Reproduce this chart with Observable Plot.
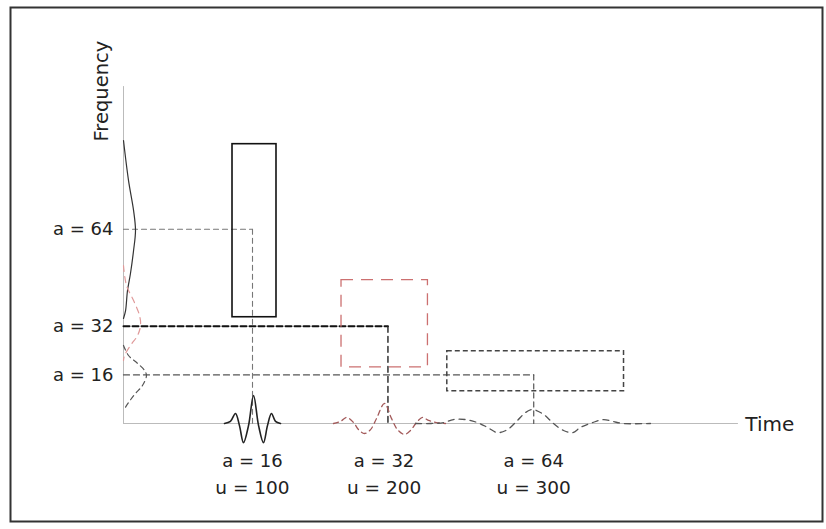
<!DOCTYPE html>
<html><head><meta charset="utf-8">
<script src="https://cdn.jsdelivr.net/npm/d3@7"></script>
<script src="https://cdn.jsdelivr.net/npm/@observablehq/plot@0.6"></script>
<style>body{margin:0;background:#fff} svg{display:block}</style>
</head><body><div id="chart"></div>
<script>
// ---- data (time units on x, frequency units on y) ----
const levels = [64, 32, 16];
const levelLabels = ["a = 64", "a = 32", "a = 16"];
const guideTimes = [100, 205, 318];
const bottomTimes = [100, 202, 318];
const scaleLabels = ["a = 16", "a = 32", "a = 64"];
const shiftLabels = ["u = 100", "u = 200", "u = 300"];
const boxT1 = [84.5, 169, 251];
const boxT2 = [118.6, 236, 388];
const boxF1 = [35, 18.5, 10.6];
const boxF2 = [92, 47.2, 23.8];
const axisTimeEnd = 476;
const axisFreqEnd = 111;

// wavelets along the time axis
const w1T = [78.3, 82.9, 86.8, 89.9, 93.0, 96.9, 100.8, 104.7, 108.5, 111.6, 114.7, 117.8, 121.7];
const w1V = [0, 0.7, 3.3, -0.7, -6.3, -0.7, 9.2, -0.7, -6.3, -0.7, 3.3, 0.7, 0];
const w2T = [162.8, 168.2, 172.9, 178.3, 182.2, 186.8, 191.5, 196.1, 202.3, 207.8, 212.4, 217.8, 222.5, 227.1, 231.8, 236.4, 242.6, 249.6];
const w2V = [0, 0.66, 2.0, 0.33, -2.0, -3.3, -2.0, 1.6, 6.6, 1.6, -2.0, -3.6, -2.3, 0.3, 2.0, 1.0, 0.3, 0];
const w3T = [226.4, 238.0, 248.1, 255.8, 265.1, 274.4, 282.2, 289.9, 297.7, 305.4, 311.6, 317.1, 325.6, 333.3, 341.1, 348.1, 354.3, 363.6, 372.1, 379.8, 387.6, 408.5];
const w3V = [0, 0, 0.3, 1.3, 1.3, 0.3, -1.3, -3.0, -2.0, 1.0, 3.6, 4.6, 3.0, 0, -2.3, -3.0, -1.3, 0.3, 1.3, 0.6, 0, 0];

// spectra along the frequency axis (x = bulge, y = frequency)
const g1X = [0, 3.9, 7.8, 9.3, 7.8, 5.4, 3.1, 1.6, 0];
const g1Y = [93.2, 80, 70.2, 63.6, 57, 49.4, 43.8, 37.2, 34.6];
const g2X = [0, 2.3, 7.8, 12.4, 13.2, 10.9, 5.4, 0.8, 0];
const g2Y = [52, 45.5, 40.5, 35.6, 32.3, 29, 25.7, 22.4, 20.8];
const g3X = [0, 3.9, 10.9, 16.3, 17.8, 14.7, 9.3, 3.9, 0];
const g3Y = [25.7, 22.4, 19.8, 17.5, 15.8, 12.5, 9.9, 6.9, 4.3];

// ---- build ----
const pts = (a, b) => a.map((v, i) => ({x: v, y: b[i]}));
const font = "DejaVu Sans, Verdana, sans-serif";
const ink = "#222";

const guideStyles = [
  {h: {stroke: "#777", strokeWidth: 1.1, strokeDasharray: "5,4"}, v: {stroke: "#777", strokeWidth: 1.1, strokeDasharray: "5,4"}},
  {h: {stroke: "#111", strokeWidth: 2, strokeDasharray: "6,3"}, v: {stroke: "#222", strokeWidth: 1.4, strokeDasharray: "6,4"}},
  {h: {stroke: "#555", strokeWidth: 1.3, strokeDasharray: "6,4"}, v: {stroke: "#555", strokeWidth: 1.2, strokeDasharray: "5,4"}}
];
const boxStyles = [
  {stroke: "#111", strokeWidth: 1.6},
  {stroke: "#cc7070", strokeWidth: 1.3, strokeDasharray: "12,8"},
  {stroke: "#444", strokeWidth: 1.5, strokeDasharray: "5,3"}
];

const marks = [
  Plot.frame({stroke: "#333", strokeWidth: 2}),
  // axes
  Plot.line(pts([0, 0], [0, axisFreqEnd]), {x: "x", y: "y", stroke: "#bbb", strokeWidth: 1}),
  Plot.line(pts([0, axisTimeEnd], [0, 0]), {x: "x", y: "y", stroke: "#bbb", strokeWidth: 1}),
];
levels.forEach((lv, i) => {
  marks.push(Plot.line(pts([0, guideTimes[i]], [lv, lv]), {x: "x", y: "y", ...guideStyles[i].h}));
  marks.push(Plot.line(pts([guideTimes[i], guideTimes[i]], [lv, 0]), {x: "x", y: "y", ...guideStyles[i].v}));
});
boxT1.forEach((t, i) => {
  marks.push(Plot.rect([i], {x1: () => boxT1[i], x2: () => boxT2[i], y1: () => boxF1[i], y2: () => boxF2[i], fill: "none", ...boxStyles[i]}));
});
marks.push(
  Plot.line(pts(w1T, w1V), {x: "x", y: "y", curve: "catmull-rom", stroke: "#222", strokeWidth: 1.6}),
  Plot.line(pts(w2T, w2V), {x: "x", y: "y", curve: "catmull-rom", stroke: "#a35a5a", strokeWidth: 1.3, strokeDasharray: "5,4"}),
  Plot.line(pts(w3T, w3V), {x: "x", y: "y", curve: "catmull-rom", stroke: "#555", strokeWidth: 1.3, strokeDasharray: "6,5"}),
  Plot.line(pts(g1X, g1Y), {x: "x", y: "y", curve: "catmull-rom", stroke: "#333", strokeWidth: 1.2}),
  Plot.line(pts(g2X, g2Y), {x: "x", y: "y", curve: "catmull-rom", stroke: "#e09a9a", strokeWidth: 1.2, strokeDasharray: "6,5"}),
  Plot.line(pts(g3X, g3Y), {x: "x", y: "y", curve: "catmull-rom", stroke: "#555", strokeWidth: 1.2, strokeDasharray: "5,4"}),
  // texts
  Plot.text(levels, {x: -7.75, y: d => d, text: (d, i) => levelLabels[i], textAnchor: "end", fontSize: 18, fontFamily: font, fill: ink}),
  Plot.text(bottomTimes, {x: d => d, y: -12.5, text: (d, i) => scaleLabels[i], fontSize: 18, fontFamily: font, fill: ink}),
  Plot.text(bottomTimes, {x: d => d, y: -21.3, text: (d, i) => shiftLabels[i], fontSize: 18.5, fontFamily: font, fill: ink}),
  Plot.text(["Time"], {x: 482, y: -0.5, text: d => d, textAnchor: "start", fontSize: 20, fontFamily: font, fill: ink}),
  Plot.text(["Frequency"], {x: -17, y: 109.5, text: d => d, rotate: -90, fontSize: 19.5, fontFamily: font, fill: ink})
);

const chart = Plot.plot({
  width: 826, height: 529,
  marginLeft: 10, marginTop: 7, marginRight: 4, marginBottom: 8,
  x: {domain: [-95.35, 544.96], range: [0, 826], axis: null},
  y: {domain: [0, 111], range: [423, 86], axis: null},
  style: {background: "#fff"},
  marks
});
document.getElementById("chart").appendChild(chart);
</script></body></html>
